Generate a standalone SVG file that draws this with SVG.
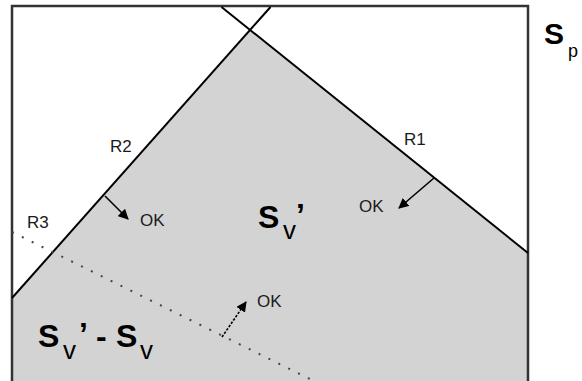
<svg xmlns="http://www.w3.org/2000/svg" width="582" height="381" viewBox="0 0 582 381">
<defs>
<style>
.lbl{font-family:"Liberation Sans",Arial,sans-serif;font-size:17px;fill:#1a1a1a}
.big{font-family:"Liberation Sans",Arial,sans-serif;font-weight:bold;font-size:32px;fill:#000}
.sub{font-family:"Liberation Sans",Arial,sans-serif;font-size:26px;fill:#000}
.edge{stroke:#000;stroke-width:2;fill:none}
.arr{stroke:#000;stroke-width:1.6;fill:none;marker-end:url(#ah)}
</style>
<marker id="ah" viewBox="0 0 10 10" refX="9" refY="5" markerWidth="6.5" markerHeight="6.5" orient="auto" markerUnits="strokeWidth">
<path d="M0,0 L10,5 L0,10 z" fill="#000"/>
</marker>
</defs>
<rect width="582" height="381" fill="#fff"/>
<g id="region">
<polygon points="12,298 250,30 528,253 528,381 12,381" fill="#d3d3d3"/>
<path d="M12,381 V6 H528 V381" stroke="#333" stroke-width="2.5" fill="none"/>
</g>
<g id="connectors">
<line id="R2line" class="edge" x1="12" y1="298" x2="270.5" y2="7"/>
<line id="R1line" class="edge" x1="221.5" y1="7" x2="528" y2="253"/>
<line id="R3line" x1="12" y1="232" x2="316" y2="382" stroke="#444" stroke-width="2" stroke-dasharray="2 9"/>
<line class="arr" x1="105" y1="196" x2="128" y2="219"/>
<line class="arr" x1="434" y1="178" x2="399" y2="208"/>
<line class="arr" x1="222" y1="337" x2="246" y2="302" stroke-dasharray="2.5 1.5"/>
</g>
<g id="R1"><text class="lbl" x="404" y="145">R1</text></g>
<g id="R2"><text class="lbl" x="110" y="152">R2</text></g>
<g id="R3"><text class="lbl" x="27" y="228">R3</text></g>
<g id="OK1"><text class="lbl" x="359" y="212">OK</text></g>
<g id="OK2"><text class="lbl" x="140" y="226">OK</text></g>
<g id="OK3"><text class="lbl" x="257" y="307">OK</text></g>
<g id="Svp">
<text class="big" x="258" y="228">S</text>
<text class="sub" x="283" y="239">v</text>
<text class="big" x="296" y="226">’</text>
</g>
<g id="SvpMinusSv">
<text class="big" x="38" y="347">S</text>
<text class="sub" x="63" y="359">v</text>
<text class="big" x="79" y="345">’</text>
<text class="big" x="96" y="347">-</text>
<text class="big" x="116" y="347">S</text>
<text class="sub" x="140" y="359">v</text>
</g>
<g id="Sp">
<text class="big" x="544" y="44" style="font-size:30px">S</text>
<text class="sub" x="568" y="57" style="font-size:18px">p</text>
</g>
</svg>
